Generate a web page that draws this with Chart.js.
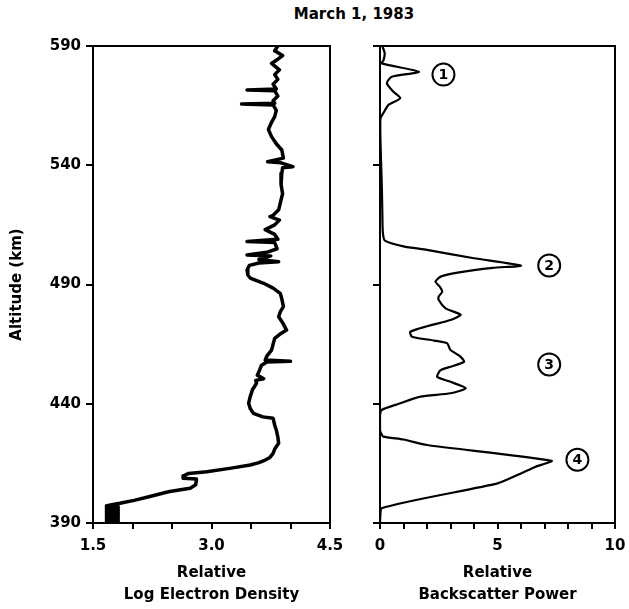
<!DOCTYPE html>
<html><head><meta charset="utf-8">
<script src="https://cdn.jsdelivr.net/npm/chart.js@4"></script>
<style>
body{margin:0;background:#fff;width:629px;height:609px;position:relative;overflow:hidden}
#title{position:absolute;left:254px;width:200px;top:5px;text-align:center;font:bold 15px 'DejaVu Sans',sans-serif;color:#000}
canvas{position:absolute;top:0}
</style></head><body>
<div id="title">March 1, 1983</div>
<canvas id="c1" width="345" height="609" style="left:0;width:345px;height:609px"></canvas>
<canvas id="c2" width="284" height="609" style="left:345px;width:284px;height:609px"></canvas>
<script>
// ---- data ----
const densityAlt = [590,588,586,584,582.7,580,578,576,574,572,571.6,571.2,569,567,566,565.7,565.3,563,560.4,558,555,552,549,546.4,543,541.5,541,539.4,539,536.6,532,528,526.8,524,521.3,519,518.5,517,515,513,511,509,508,507.6,505,503.5,502.4,502,500.5,499.5,499,498,496.1,494,492.7,491.5,490.5,488.5,486.3,484,480.7,478.5,476.5,474,470.9,469,467.4,465,462.5,460,458.3,457.8,457.5,456,454.2,452,450.5,449.8,448.6,446,443,440.2,438,436,434.5,433.9,431,429,426,423.4,421,419.2,417.5,416.4,415.3,414.3,413,411.5,410.8,409.8,408.8,408.5,406,404.6,403.2,402.5,401.1,399.5,398.3,397.6,397.2,396.8,396.4,396,395.6,395.2,394.8,394.4,394,393.6,393.2,392.8,392.4,392,391.6,391.2,390.8,390.4,390];
const densityVal = [3.84,3.80,3.90,3.82,3.76,3.86,3.80,3.84,3.78,3.82,3.45,3.80,3.84,3.78,3.80,3.38,3.78,3.82,3.80,3.76,3.72,3.76,3.82,3.89,3.91,3.71,3.88,4.03,3.90,3.89,3.88,3.90,3.89,3.87,3.85,3.78,3.74,3.86,3.80,3.68,3.80,3.84,3.45,3.80,3.83,3.70,3.45,3.75,3.60,3.85,3.60,3.48,3.45,3.46,3.49,3.58,3.66,3.78,3.87,3.89,3.91,3.87,3.85,3.90,3.95,3.86,3.80,3.78,3.76,3.70,3.68,4.00,3.70,3.63,3.61,3.58,3.66,3.56,3.57,3.52,3.49,3.47,3.49,3.53,3.65,3.78,3.80,3.82,3.84,3.85,3.80,3.78,3.74,3.68,3.60,3.49,3.25,2.94,2.71,2.65,2.64,2.81,2.80,2.73,2.47,2.38,2.22,2.02,1.84,1.72,1.67,1.82,1.67,1.82,1.67,1.82,1.67,1.82,1.67,1.82,1.67,1.82,1.67,1.82,1.67,1.82,1.67,1.82,1.67,1.80];

const powerAlt = [590,587,584,582.7,579.2,577.1,574.4,571,568.1,565.3,562,559.7,550,540,530,520,512,508.4,506,504.5,501,497.9,497,495,493.3,491.2,489,487,485,483.5,480,478,477.2,475.1,472.5,470.2,468.1,466.5,465.3,462.5,460,457.6,455.5,454.1,451.3,449.2,446.5,444.4,443,440,437.4,435,429,427.5,426.2,425,422.7,416.1,413.5,410.8,406.6,396.2,390];
const powerVal = [0.1,0.2,0.15,0.07,1.65,0.5,0.29,0.55,0.86,0.36,0.15,0.02,0.02,0.05,0.08,0.1,0.12,0.21,1.0,2.0,4.0,6.0,4.8,3.3,2.58,2.36,2.55,2.65,2.5,2.5,2.79,3.3,3.43,3.0,2.0,1.29,1.36,2.3,2.86,3.0,3.4,3.58,3.0,2.58,2.43,3.0,3.65,3.0,1.72,0.8,0.07,0,0,0.05,0.14,1.0,2.0,7.3,6.6,6.0,5.0,0.07,0];

const altTicks = [390,440,490,540,590];
const densityTickValues = [1.5,3.0,4.5];
const densityTickLabels = ['1.5','3.0','4.5'];
const powerTickValues = [0,5,10];
const powerTickLabels = ['0','5','10'];

const annoLabels = ['1','2','3','4'];
const annoX = [2.7,7.2,7.2,8.4];
const annoAlt = [578,498,456.5,416.5];

// ---- styling ----
const FAM = "'DejaVu Sans', sans-serif";
const tickFont = {family:FAM, size:15, weight:'bold'};
const titleFont = {family:FAM, size:15, weight:'bold', lineHeight:'22px'};

const boxPlugin = {
  id:'box',
  afterDraw(chart){
    const {ctx, chartArea:a} = chart;
    ctx.save(); ctx.strokeStyle='#000'; ctx.lineWidth=2;
    ctx.strokeRect(a.left, a.top, a.right-a.left, a.bottom-a.top);
    ctx.restore();
  }
};

const annoPlugin = {
  id:'anno',
  afterDatasetsDraw(chart){
    const {ctx} = chart; const xs = chart.scales.x, ys = chart.scales.y;
    ctx.save();
    for (let i=0;i<annoLabels.length;i++){
      const px = xs.getPixelForValue(annoX[i]), py = ys.getPixelForValue(annoAlt[i]);
      ctx.beginPath(); ctx.arc(px, py, 11, 0, Math.PI*2);
      ctx.lineWidth=2; ctx.strokeStyle='#000'; ctx.stroke();
      ctx.fillStyle='#000'; ctx.font="bold 14px "+FAM; ctx.textAlign='center'; ctx.textBaseline='middle';
      ctx.fillText(annoLabels[i], px, py+1);
    }
    ctx.restore();
  }
};

function yScale(showLabels){
  return {
    type:'linear', min:390, max:590,
    ticks:{stepSize:50, font:tickFont, color:'#000', padding:5, display:showLabels},
    grid:{drawOnChartArea:false, drawTicks:true, tickLength:7, color:'#000', lineWidth:2},
    border:{color:'#000', width:2},
    title:{display:showLabels, text:'Altitude (km)', font:{family:FAM,size:15,weight:'bold'}, color:'#000', padding:{top:8,bottom:0}},
    afterFit:(s)=>{ s.width = showLabels ? 93 : 35; s.paddingTop = 0; s.paddingBottom = 0; }
  };
}
function xScale(min,max,step,vals,labs,title){
  return {
    type:'linear', min:min, max:max,
    ticks:{stepSize:step, autoSkip:false, maxRotation:0, font:tickFont, color:'#000', padding:8,
      callback:(v)=>{ const i = vals.findIndex(t=>Math.abs(t-v)<1e-6); return i>=0 ? labs[i] : ''; }},
    grid:{drawOnChartArea:false, drawTicks:true, tickLength:6, color:'#000', lineWidth:2},
    border:{color:'#000', width:2},
    title:{display:true, text:title, font:titleFont, color:'#000', padding:{top:0,bottom:3}},
    afterFit:(s)=>{ s.height = 86; s.paddingLeft = 0; s.paddingRight = 0; }
  };
}

const commonOpts = {
  responsive:false, animation:false, devicePixelRatio:1,
  plugins:{legend:{display:false}, tooltip:{enabled:false}}
};

new Chart(document.getElementById('c1'), {
  type:'scatter',
  data:{datasets:[{
    data: densityAlt.map((a,i)=>({x:densityVal[i], y:a})),
    showLine:true, pointRadius:0, borderColor:'#000', borderWidth:3.5, tension:0,
    borderJoinStyle:'round', borderCapStyle:'round'
  }]},
  options:Object.assign({}, commonOpts, {
    layout:{padding:{top:46, right:15, left:0, bottom:0}},
    scales:{
      x: xScale(1.5,4.5,0.5,densityTickValues,densityTickLabels,['Relative','Log Electron Density']),
      y: yScale(true)
    }
  }),
  plugins:[boxPlugin]
});

new Chart(document.getElementById('c2'), {
  type:'scatter',
  data:{datasets:[{
    data: powerAlt.map((a,i)=>({x:powerVal[i], y:a})),
    showLine:true, pointRadius:0, borderColor:'#000', borderWidth:2.2, tension:0.2,
    borderJoinStyle:'round'
  }]},
  options:Object.assign({}, commonOpts, {
    layout:{padding:{top:46, right:14, left:0, bottom:0}},
    scales:{
      x: xScale(0,10,1,powerTickValues,powerTickLabels,['Relative','Backscatter Power']),
      y: yScale(false)
    }
  }),
  plugins:[boxPlugin, annoPlugin]
});
</script>
</body></html>
